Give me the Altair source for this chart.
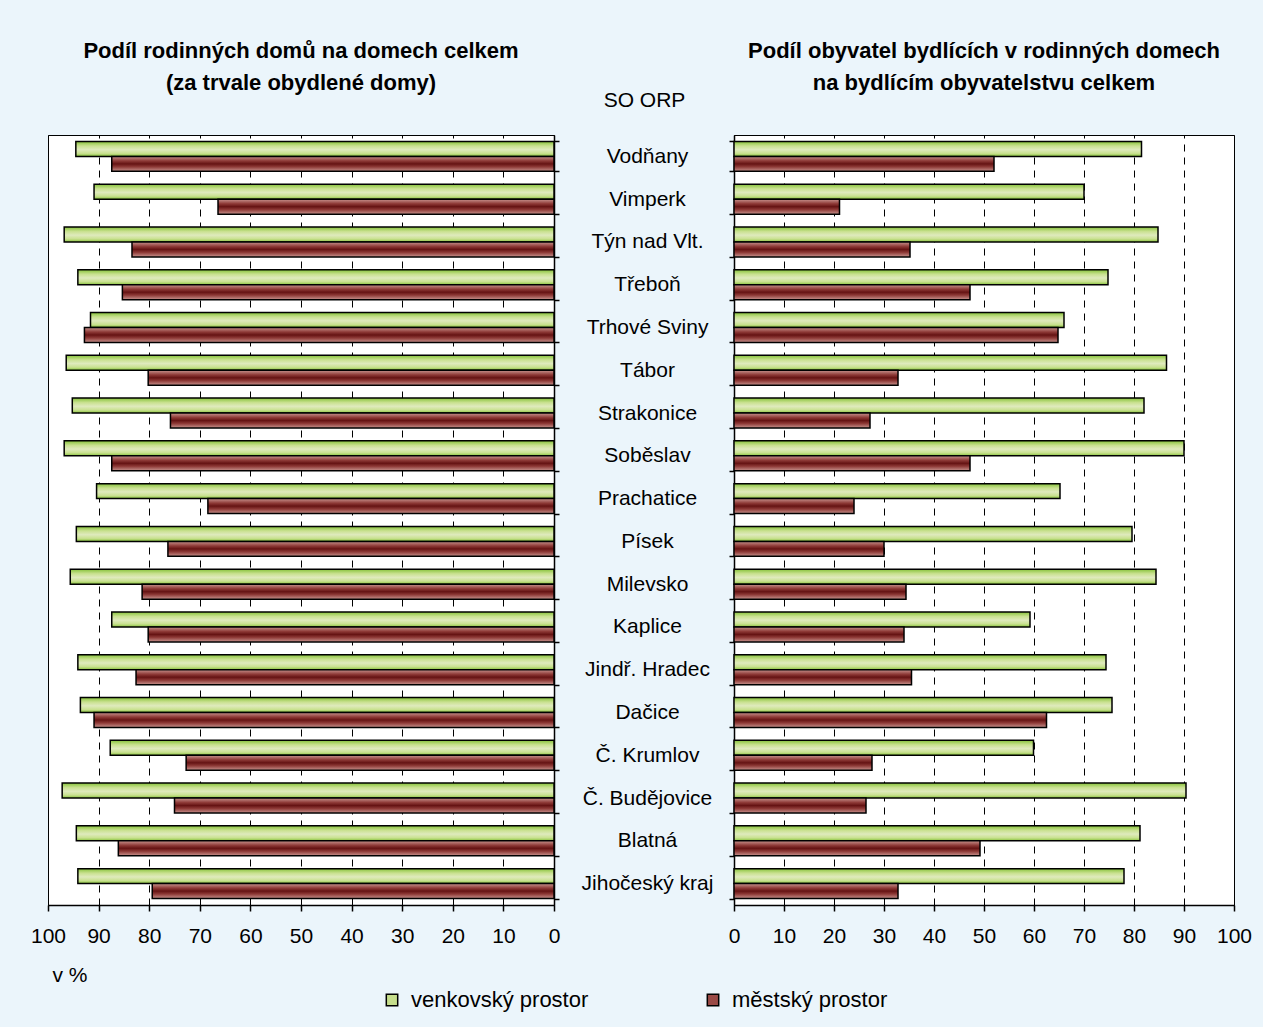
import altair as alt
import pandas as pd

categories = ["Vodňany", "Vimperk", "Týn nad Vlt.", "Třeboň", "Trhové Sviny", "Tábor",
              "Strakonice", "Soběslav", "Prachatice", "Písek", "Milevsko", "Kaplice",
              "Jindř. Hradec", "Dačice", "Č. Krumlov", "Č. Budějovice", "Blatná", "Jihočeský kraj"]
series = ["venkovský prostor", "městský prostor"]

# Podíl rodinných domů na domech celkem (%)
houses_rural = [94.5, 90.9, 96.8, 94.1, 91.6, 96.4, 95.2, 96.8, 90.4, 94.4, 95.6, 87.4, 94.1, 93.6, 87.7, 97.2, 94.4, 94.1]
houses_urban = [87.4, 66.4, 83.4, 85.3, 92.8, 80.2, 75.8, 87.4, 68.4, 76.3, 81.4, 80.2, 82.6, 90.9, 72.7, 75.0, 86.1, 79.4]
# Podíl obyvatel bydlících v rodinných domech (%)
people_rural = [81.5, 70.0, 84.8, 74.8, 66.0, 86.5, 82.0, 90.0, 65.2, 79.6, 84.4, 59.2, 74.4, 75.6, 59.9, 90.4, 81.2, 78.0]
people_urban = [52.0, 21.1, 35.2, 47.2, 64.8, 32.8, 27.2, 47.2, 24.0, 30.0, 34.4, 34.0, 35.5, 62.5, 27.6, 26.4, 49.2, 32.8]

tick_values = list(range(0, 101, 10))

FONT = "Liberation Sans"


def long_df(rural, urban):
    rows = []
    for c, r, u in zip(categories, rural, urban):
        rows.append({"kategorie": c, "prostor": series[0], "hodnota": r})
        rows.append({"kategorie": c, "prostor": series[1], "hodnota": u})
    return pd.DataFrame(rows)


df_left = long_df(houses_rural, houses_urban)
df_right = long_df(people_rural, people_urban)

grad_green = alt.LinearGradient(
    gradient="linear", x1=0, x2=0, y1=0, y2=1,
    stops=[alt.GradientStop(color="#86c23a", offset=0),
           alt.GradientStop(color="#c9e190", offset=0.3),
           alt.GradientStop(color="#dfeabd", offset=0.55),
           alt.GradientStop(color="#c9e190", offset=0.8),
           alt.GradientStop(color="#86c23a", offset=1)])
grad_red = alt.LinearGradient(
    gradient="linear", x1=0, x2=0, y1=0, y2=1,
    stops=[alt.GradientStop(color="#c99590", offset=0),
           alt.GradientStop(color="#8e3a37", offset=0.3),
           alt.GradientStop(color="#651313", offset=0.5),
           alt.GradientStop(color="#8e3a37", offset=0.7),
           alt.GradientStop(color="#c99590", offset=1)])

legend = alt.Legend(
    title=None, orient="none", direction="horizontal", legendX=333, legendY=854,
    symbolType="square", symbolSize=130, symbolStrokeColor="black", symbolStrokeWidth=1.5,
    labelFont=FONT, labelFontSize=22, labelColor="black", labelLimit=400,
    columnPadding=113, labelOffset=8)


def panel(df, reverse, width, yaxis, xaxis, title):
    y = alt.Y("kategorie:N", sort=categories,
              scale=alt.Scale(paddingInner=0.3, paddingOuter=0.15), axis=yaxis)
    x = alt.X("hodnota:Q", scale=alt.Scale(domain=[0, 100], reverse=reverse, nice=False), axis=xaxis)
    yoff = alt.YOffset("prostor:N", sort=series,
                       scale=alt.Scale(domain=series, paddingInner=0, paddingOuter=0))
    base = alt.Chart(df).encode(y=y, x=x, yOffset=yoff)
    colored = base.mark_bar().encode(
        color=alt.Color("prostor:N", sort=series,
                        scale=alt.Scale(domain=series, range=["#c6de8c", "#9a4a46"]),
                        legend=legend))
    g = base.transform_filter(alt.datum.prostor == series[0]).mark_bar(
        fill=grad_green, stroke="black", strokeWidth=1.5)
    r = base.transform_filter(alt.datum.prostor == series[1]).mark_bar(
        fill=grad_red, stroke="black", strokeWidth=1.5)
    return alt.layer(colored, g, r).properties(
        width=width, height=770,
        title=alt.TitleParams(title, font=FONT, fontSize=22, fontWeight="bold",
                              lineHeight=32, offset=-6, anchor="middle", color="black"))


axis_common = dict(values=tick_values, tickSize=6, labelPadding=14, labelFlush=False,
                   grid=True, gridDash=[7, 6], gridColor="black", gridOpacity=1)

xaxis_left = alt.Axis(title="v %", titleX=4, titleY=70, titleAlign="left", titleBaseline="middle",
                      titleFont=FONT, titleFontSize=21, titleFontWeight="normal", titleColor="black",
                      **axis_common)
xaxis_right = alt.Axis(title=None, **axis_common)

yaxis_left = alt.Axis(orient="right", tickBand="extent", tickSize=5, labelAlign="center",
                      labelPadding=88, labelBaseline="middle", labelFontSize=21,
                      title="SO ORP", titleAngle=0, titleX=90, titleY=-35,
                      titleAlign="center", titleBaseline="middle",
                      titleFont=FONT, titleFontSize=21, titleFontWeight="normal", titleColor="black")
# same (invisible) title on the right panel keeps both panel titles at one height
yaxis_right = alt.Axis(orient="left", tickBand="extent", tickSize=5, labels=False,
                       title="SO ORP", titleAngle=0, titleX=-90, titleY=-35, titleOpacity=0,
                       titleAlign="center", titleBaseline="middle",
                       titleFont=FONT, titleFontSize=21, titleFontWeight="normal")

left = panel(df_left, True, 506, yaxis_left, xaxis_left,
             ["Podíl rodinných domů na  domech celkem", "(za trvale obydlené domy)"])
right = panel(df_right, False, 500, yaxis_right, xaxis_right,
              ["Podíl obyvatel bydlících v rodinných domech", "na bydlícím obyvatelstvu celkem"])

chart = alt.hconcat(left, right, spacing=180, bounds="flush").properties(
    background="#ebf5fb",
    padding={"left": 29, "top": 39, "right": 10, "bottom": 16},
).configure_view(
    stroke="black", strokeWidth=1, fill="white"
).configure_axis(
    labelFont=FONT, labelFontSize=21, labelColor="black",
    tickColor="black", domainColor="black", domainWidth=1.5, tickWidth=1.5,
)

chart.save("out.html", embed_options={"renderer": "svg", "actions": False})
